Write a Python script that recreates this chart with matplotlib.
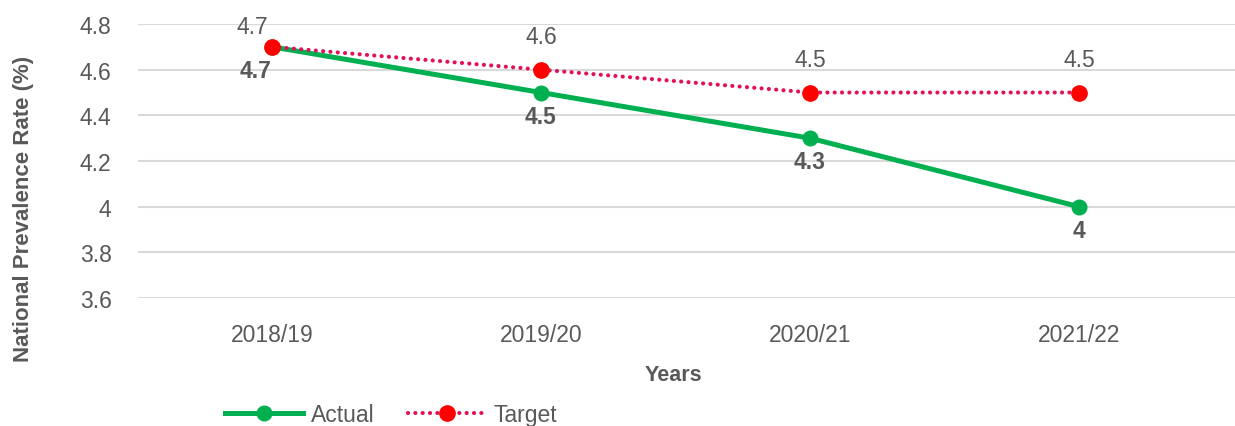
import matplotlib
matplotlib.use('Agg')
import matplotlib.pyplot as plt

plt.rcParams['font.family'] = ['Liberation Sans', 'DejaVu Sans']

years = ["2018/19", "2019/20", "2020/21", "2021/22"]
actual = [4.7, 4.5, 4.3, 4.0]
target = [4.7, 4.6, 4.5, 4.5]
y_ticks = [3.6, 3.8, 4.0, 4.2, 4.4, 4.6, 4.8]
y_tick_labels = ["3.6", "3.8", "4", "4.2", "4.4", "4.6", "4.8"]

GREY = "#595959"
GREEN = "#00b050"
RED = "#ff0000"
CRIMSON = "#e2105a"
FS = 16.5

fig = plt.figure(figsize=(12.35, 4.27), dpi=100)
fig.patch.set_facecolor("white")
ax = fig.add_axes([138 / 1235, 1 - 299 / 427, 1 - 138 / 1235, (299 - 25) / 427])

x = list(range(len(years)))

ax.plot(x, actual, color=GREEN, linewidth=3.6, marker="o",
        markersize=10.5, markerfacecolor=GREEN, markeredgecolor=GREEN,
        label="Actual", zorder=3)
ax.plot(x, target, color=CRIMSON, linewidth=3.0, linestyle=(0, (0.01, 1.75)),
        dash_capstyle="round", marker="o", markersize=11,
        markerfacecolor=RED, markeredgecolor=RED, label="Target", zorder=4)

# value labels: targets above, actuals below (first pair nudged left)
for i, v in enumerate(target):
    dx, dy = (-14, 15) if i == 0 else (0, 24)
    ax.annotate(f"{v:g}", (i, v), xytext=(dx, dy), textcoords="offset points",
                ha="center", va="center", fontsize=FS, color=GREY)
for i, v in enumerate(actual):
    dx, dy = (-12, -17) if i == 0 else (0, -17)
    ax.annotate(f"{v:g}", (i, v), xytext=(dx, dy), textcoords="offset points",
                ha="center", va="center", fontsize=FS, color=GREY,
                fontweight="bold")

ax.set_xlim(-0.498, 3.58)
ax.set_ylim(3.6, 4.8)
ax.set_xticks(x)
ax.set_xticklabels(years)
ax.set_yticks(y_ticks)
ax.set_yticklabels(y_tick_labels)
ax.tick_params(axis="both", length=0, labelsize=FS, labelcolor=GREY)
ax.tick_params(axis="x", pad=18)
ax.tick_params(axis="y", pad=19)

ax.grid(axis="y", color="#d9d9d9", linewidth=1.5)
ax.set_axisbelow(True)
for s in ax.spines.values():
    s.set_visible(False)

ax.set_xlabel("Years", fontsize=15.5, fontweight="bold", color=GREY)
ax.xaxis.set_label_coords((673 - 138) / 1097, (299 - 365) / 274)
ax.set_ylabel("National Prevalence Rate (%)", fontsize=16,
              fontweight="bold", color=GREY)
ax.yaxis.set_label_coords((34 - 138) / 1097, (299 - 209) / 274)

fig.legend(loc="center left", bbox_to_anchor=(225 / 1235, 1 - 416 / 427),
           ncol=2, frameon=False, fontsize=FS, handlelength=3.4,
           handletextpad=0.35, columnspacing=1.45, borderpad=0,
           borderaxespad=0, labelcolor=GREY)

fig.savefig("out.png", dpi=100, facecolor="white")
